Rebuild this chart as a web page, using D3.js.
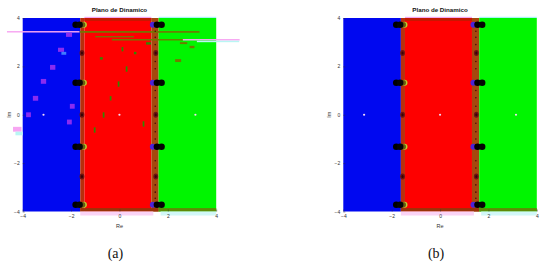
<!DOCTYPE html>
<html>
<head>
<meta charset="utf-8">
<script src="https://cdn.jsdelivr.net/npm/d3@7"></script>
<style>
  body { margin: 0; background: #fff; }
  svg { display: block; }
</style>
</head>
<body>
<svg id="chart" width="550" height="267"></svg>
<script>
// ---- datos ----
const xTicks = [-4, -2, 0, 2, 4];
const yTicks = [-4, -2, 0, 2, 4];
const panelLabels = ["(a)", "(b)"];

// cuencas de atraccion (limites en Re)
const basinNames = ["azul", "bordeIzq", "rojo", "bordeDer", "verde"];
const basinEdges = [-4, -1.62, -1.45, 1.32, 1.62, 4];

// raices (puntos fijos)
const roots = [-3.14, 0, 3.14];

// filas de manchas negras sobre las fronteras
const blobRows = [3.72, 1.32, -1.32, -3.72];
const frontierLeft = -1.67;
const frontierRight = 1.6;
// manchas granate
const maroonRows = [2.55, 0, -2.55];
// puntitos oscuros en la franja derecha
const dotRows = [3.45, 3.2, 2.9, 2.2, 1.9, 1.0, 0.7, 0.35, -0.35, -0.7, -1.0, -1.9, -2.2, -2.9, -3.2, -3.45];

// ruido del panel (a): [x, yTop, ancho, alto, tipo]
const noiseA = [
  [-4.65, 3.46, 3.0, 0.06, "rosa"],
  [-1.64, 3.46, 4.95, 0.07, "oliva"],
  [-0.31, 3.13, 2.95, 0.06, "oliva"],
  [-1.0, 3.25, 1.6, 0.05, "oliva"],
  [2.62, 3.13, 2.35, 0.06, "rosa"],
  [3.2, 3.06, 1.75, 0.06, "cian"],
  [-2.21, 3.39, 0.25, 0.17, "violeta"],
  [-2.54, 2.77, 0.25, 0.17, "violeta"],
  [-2.87, 2.06, 0.22, 0.2, "violeta"],
  [-3.25, 1.48, 0.22, 0.2, "violeta"],
  [-3.58, 0.78, 0.22, 0.2, "violeta"],
  [-2.05, 0.45, 0.2, 0.2, "violeta"],
  [-3.86, 0.1, 0.2, 0.2, "violeta"],
  [-2.17, -0.2, 0.2, 0.2, "violeta"],
  [-2.4, 2.6, 0.2, 0.12, "celeste"],
  [-4.4, -0.5, 0.35, 0.2, "rosa"],
  [-4.3, -0.7, 0.3, 0.15, "cian"],
  [0.26, 2.0, 0.07, 0.22, "verdeOsc"],
  [-0.07, 1.38, 0.07, 0.22, "verdeOsc"],
  [-0.69, 0.1, 0.07, 0.22, "verdeOsc"],
  [0.96, -0.27, 0.07, 0.22, "verdeOsc"],
  [-1.06, -0.52, 0.07, 0.22, "verdeOsc"],
  [-0.4, 0.77, 0.07, 0.18, "verdeOsc"],
  [0.09, 2.8, 0.07, 0.18, "verdeOsc"],
  [-0.81, 2.38, 0.12, 0.1, "verdeOsc"],
  [1.1, 3.0, 0.2, 0.1, "verdeOsc"],
  [0.6, 2.6, 0.1, 0.1, "verdeOsc"],
  [2.3, 2.3, 0.25, 0.12, "oliva"],
  [2.9, 2.85, 0.2, 0.1, "oliva"],
  [2.5, 3.0, 0.3, 0.08, "oliva"]
];

// ---- estilos ----
const basinColor = {
  azul: "#0008f0", bordeIzq: "#b8300c", rojo: "#fe0000",
  bordeDer: "#a5480e", verde: "#00f500"
};
const noiseColor = {
  rosa: "#f7a6f2", oliva: "#6f7a00", cian: "#b9f6f4",
  violeta: "#8a2cf0", celeste: "#3f7cff", verdeOsc: "#2f8a00"
};

const svg = d3.select("#chart");
const size = 193.5;
const plotTop = 18;

function drawPanel(left, noisy, label) {
  const x = d3.scaleLinear().domain([-4, 4]).range([left, left + size]);
  const y = d3.scaleLinear().domain([-4, 4]).range([plotTop + size, plotTop]);
  const g = svg.append("g");

  // cuencas
  g.selectAll("rect.basin")
    .data(basinNames)
    .join("rect")
    .attr("x", (d, i) => x(basinEdges[i]))
    .attr("y", y(4))
    .attr("width", (d, i) => x(basinEdges[i + 1]) - x(basinEdges[i]))
    .attr("height", y(-4) - y(4))
    .attr("fill", d => basinColor[d]);

  // franjas superior e inferior
  g.append("rect")
    .attr("x", x(basinEdges[2])).attr("y", y(4))
    .attr("width", x(basinEdges[3]) - x(basinEdges[2])).attr("height", y(3.88) - y(4))
    .attr("fill", "#c41a02");
  g.append("rect")
    .attr("x", x(basinEdges[1])).attr("y", y(-3.86))
    .attr("width", x(basinEdges[4]) - x(basinEdges[1])).attr("height", y(-4) - y(-3.86))
    .attr("fill", "#9a3208");
  g.append("rect")
    .attr("x", x(basinEdges[4])).attr("y", y(-3.86))
    .attr("width", x(4) - x(basinEdges[4])).attr("height", y(-4) - y(-3.86))
    .attr("fill", "#5e8a06");

  // fantasmas fuera del eje
  g.append("rect").attr("x", x(-1.62)).attr("y", y(-4))
    .attr("width", x(1.4) - x(-1.62)).attr("height", 4).attr("fill", "#fbd3f6");
  g.append("rect").attr("x", x(1.7)).attr("y", y(-4))
    .attr("width", x(4) - x(1.7)).attr("height", 4).attr("fill", "#d2f8f8");
  g.append("rect").attr("x", x(-1.45)).attr("y", y(4) - 1.2)
    .attr("width", x(1.32) - x(-1.45)).attr("height", 1.2).attr("fill", "#f6a8f0");
  g.append("rect").attr("x", x(1.62)).attr("y", y(4) - 1.2)
    .attr("width", x(4) - x(1.62)).attr("height", 1.2).attr("fill", "#a8f4f4");

  // ruido
  if (noisy) {
    g.selectAll("rect.noise")
      .data(noiseA)
      .join("rect")
      .attr("x", d => x(d[0]))
      .attr("y", d => y(d[1]))
      .attr("width", d => x(d[0] + d[2]) - x(d[0]))
      .attr("height", d => y(d[1] - d[3]) - y(d[1]))
      .attr("fill", d => noiseColor[d[4]]);
  }

  // puntitos en la franja derecha
  g.selectAll("circle.dot")
    .data(dotRows)
    .join("circle")
    .attr("cx", x(frontierRight - 0.12))
    .attr("cy", d => y(d))
    .attr("r", 0.8)
    .attr("fill", "#4a0a08");

  // manchas granate
  maroonRows.forEach(v => {
    [frontierLeft + 0.12, frontierRight - 0.1].forEach(fx => {
      g.append("ellipse").attr("cx", x(fx)).attr("cy", y(v))
        .attr("rx", 2.4).attr("ry", 3).attr("fill", "#6e1410");
      g.append("ellipse").attr("cx", x(fx)).attr("cy", y(v))
        .attr("rx", 1.1).attr("ry", 1.5).attr("fill", "#3a0404");
    });
  });

  // manchas negras
  blobRows.forEach(v => {
    // izquierda
    g.append("circle").attr("cx", x(frontierLeft + 0.2)).attr("cy", y(v))
      .attr("r", 3).attr("fill", "#b8d030");
    g.append("circle").attr("cx", x(frontierLeft + 0.15)).attr("cy", y(v))
      .attr("r", 2.7).attr("fill", "#6a5a10");
    g.append("circle").attr("cx", x(frontierLeft - 0.14)).attr("cy", y(v))
      .attr("r", 3.3).attr("fill", "#000");
    g.append("circle").attr("cx", x(frontierLeft + 0.02)).attr("cy", y(v))
      .attr("r", 3.3).attr("fill", "#050505");
    // derecha
    g.append("circle").attr("cx", x(frontierRight - 0.22)).attr("cy", y(v))
      .attr("r", 3).attr("fill", "#4a22d8");
    g.append("circle").attr("cx", x(frontierRight - 0.05)).attr("cy", y(v))
      .attr("r", 3.3).attr("fill", "#000");
    g.append("circle").attr("cx", x(frontierRight + 0.14)).attr("cy", y(v))
      .attr("r", 3.3).attr("fill", "#050505");
  });

  // raices
  g.selectAll("circle.root")
    .data(roots)
    .join("circle")
    .attr("cx", d => x(d))
    .attr("cy", y(0))
    .attr("r", 1.1)
    .attr("fill", "#f4d8f4");

  // ejes
  const xAxis = d3.axisBottom(x).tickValues(xTicks).tickSize(-2).tickPadding(3);
  const yAxis = d3.axisLeft(y).tickValues(yTicks).tickSize(-2).tickPadding(3);
  const ax = g.append("g").attr("transform", `translate(0,${plotTop + size})`).call(xAxis);
  const ay = g.append("g").attr("transform", `translate(${left},0)`).call(yAxis);
  [ax, ay].forEach(a => {
    a.select(".domain").remove();
    a.selectAll("line").attr("stroke", "#333").attr("stroke-width", 0.5);
    a.selectAll("text").attr("font-family", "Liberation Sans, Arial, sans-serif")
      .attr("font-size", 5).attr("fill", "#333");
  });

  g.append("text")
    .attr("x", left + size / 2).attr("y", 11.5)
    .attr("text-anchor", "middle")
    .attr("font-family", "Liberation Sans, Arial, sans-serif")
    .attr("font-size", 6.2).attr("font-weight", "bold").attr("fill", "#111")
    .text("Plano de Dinamico");

  g.append("text")
    .attr("x", left + size / 2).attr("y", plotTop + size + 16)
    .attr("text-anchor", "middle")
    .attr("font-family", "Liberation Sans, Arial, sans-serif")
    .attr("font-size", 5.5).attr("fill", "#333")
    .text("Re");

  g.append("text")
    .attr("transform", `translate(${left - 12},${plotTop + size / 2}) rotate(-90)`)
    .attr("text-anchor", "middle")
    .attr("font-family", "Liberation Sans, Arial, sans-serif")
    .attr("font-size", 5.5).attr("fill", "#333")
    .text("Im");

  g.append("text")
    .attr("x", left + size / 2 - 4).attr("y", 258)
    .attr("text-anchor", "middle")
    .attr("font-family", "Liberation Serif, DejaVu Serif, serif")
    .attr("font-size", 14).attr("fill", "#111")
    .text(label);
}

drawPanel(22.7, true, panelLabels[0]);
drawPanel(343.3, false, panelLabels[1]);
</script>
</body>
</html>
